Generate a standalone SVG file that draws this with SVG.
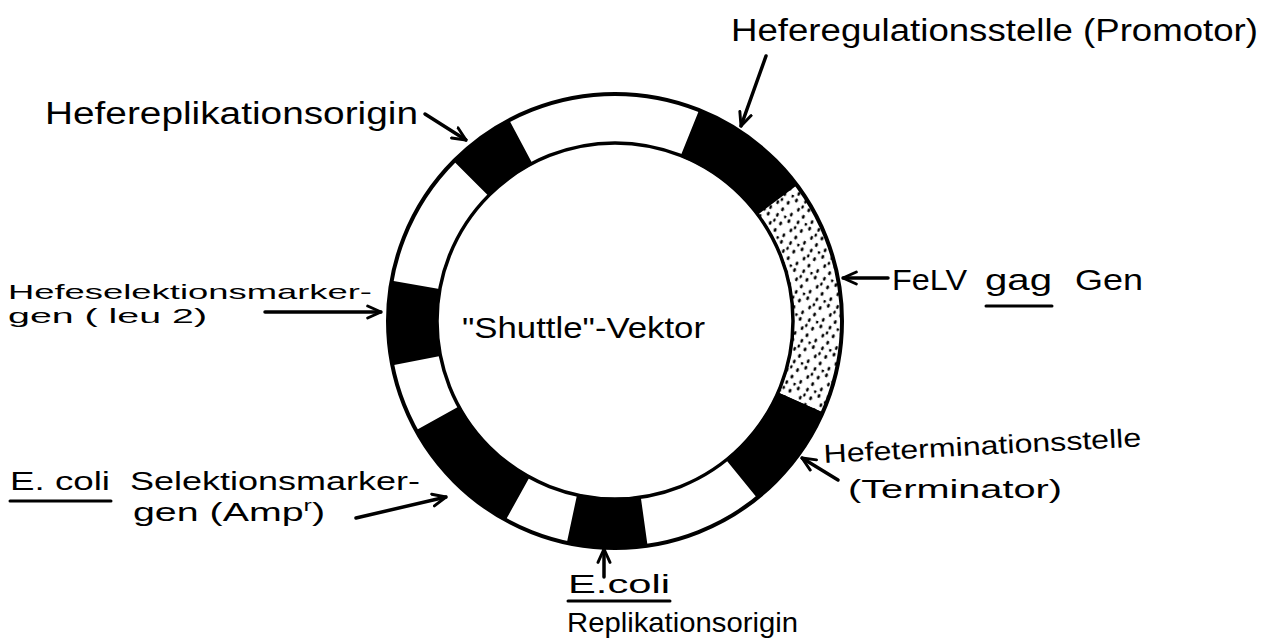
<svg xmlns="http://www.w3.org/2000/svg" width="1274" height="644" viewBox="0 0 1274 644">
  <style>
    .lbl { font-family: "Liberation Sans", Arial, sans-serif; font-weight: normal; fill: #000; }
    .seg { fill: #000; stroke: #000; stroke-width: 2; }
    .ring { fill: none; stroke: #000; }
    .conn { fill: none; stroke: #000; stroke-width: 3.5; stroke-linecap: round; }
    .ul { stroke: #000; stroke-width: 3; stroke-linecap: round; }
  </style>
  <defs>
    <marker id="arr" viewBox="0 0 12 12" refX="11" refY="6" markerWidth="16" markerHeight="16" markerUnits="userSpaceOnUse" orient="auto">
      <path d="M1,1.5 L11,6 L1,10.5" fill="none" stroke="#000" stroke-width="2.2" stroke-linecap="round" stroke-linejoin="round"/>
    </marker>
    <pattern id="dots" width="22" height="22" patternUnits="userSpaceOnUse" patternTransform="rotate(20)">
      <rect width="22" height="22" fill="#fff"/>
      <ellipse cx="3" cy="4" rx="1.5" ry="2.1" fill="#000"/>
      <ellipse cx="12" cy="2" rx="1.4" ry="1.9" fill="#000"/>
      <ellipse cx="18" cy="9" rx="1.5" ry="2" fill="#000"/>
      <ellipse cx="8" cy="12" rx="1.4" ry="2.1" fill="#000"/>
      <ellipse cx="15" cy="17" rx="1.5" ry="1.9" fill="#000"/>
      <ellipse cx="3" cy="19" rx="1.4" ry="2" fill="#000"/>
      <ellipse cx="20" cy="1" rx="1.3" ry="1.8" fill="#000"/>
      <ellipse cx="11" cy="8" rx="1.3" ry="1.8" fill="#000"/>
    </pattern>
  </defs>
  <rect width="1274" height="644" fill="#fff"/>

  <g id="plasmid">
    <circle cx="615" cy="321" r="202.5" fill="none" stroke="#fff" stroke-width="49"/>
    <!-- Hefereplikationsorigin -->
    <path class="seg" d="M454.5,160.5 A227,227 0 0 1 508.4,120.6 L531.4,163.8 A178,178 0 0 0 489.1,195.1 Z"/>
    <!-- Promotor -->
    <path class="seg" d="M700.0,110.5 A227,227 0 0 1 796.3,184.4 L757.2,213.9 A178,178 0 0 0 681.7,156.0 Z"/>
    <!-- FeLV gag (dotted) -->
    <path d="M796.3,184.4 A227,227 0 0 1 822.4,413.3 L777.6,393.4 A178,178 0 0 0 757.2,213.9 Z" fill="url(#dots)" stroke="#000" stroke-width="2"/>
    <!-- Terminator -->
    <path class="seg" d="M822.4,413.3 A227,227 0 0 1 757.9,497.4 L727.0,459.3 A178,178 0 0 0 777.6,393.4 Z"/>
    <!-- E. coli ori -->
    <path class="seg" d="M646.6,545.8 A227,227 0 0 1 567.8,543.0 L578.0,495.1 A178,178 0 0 0 639.8,497.3 Z"/>
    <!-- Amp r -->
    <path class="seg" d="M504.9,519.5 A227,227 0 0 1 416.5,431.1 L459.3,407.3 A178,178 0 0 0 528.7,476.7 Z"/>
    <!-- leu 2 -->
    <path class="seg" d="M392.2,364.3 A227,227 0 0 1 391.5,281.6 L439.7,290.1 A178,178 0 0 0 440.3,355.0 Z"/>
    <circle class="ring" cx="615" cy="321" r="227" stroke-width="4"/>
    <circle class="ring" cx="615" cy="321" r="178" stroke-width="3.5"/>
  </g>

  <g id="center-label">
    <text class="lbl" x="462" y="338" font-size="29" textLength="243" lengthAdjust="spacingAndGlyphs">"Shuttle"-Vektor</text>
  </g>

  <g id="label-promotor">
    <text class="lbl" x="731" y="41" font-size="31" textLength="527" lengthAdjust="spacingAndGlyphs">Heferegulationsstelle (Promotor)</text>
  </g>
  <g id="label-hefeori">
    <text class="lbl" x="45" y="124" font-size="31" textLength="373" lengthAdjust="spacingAndGlyphs">Hefereplikationsorigin</text>
  </g>
  <g id="label-leu2">
    <text class="lbl" x="8" y="299" font-size="21" textLength="364" lengthAdjust="spacingAndGlyphs">Hefeselektionsmarker-</text>
    <text class="lbl" x="8" y="323" font-size="21" textLength="199" lengthAdjust="spacingAndGlyphs">gen ( leu 2)</text>
  </g>
  <g id="label-felv">
    <text class="lbl" x="892" y="290" font-size="29" textLength="75" lengthAdjust="spacingAndGlyphs">FeLV</text>
    <text class="lbl" x="985" y="290" font-size="29" textLength="67" lengthAdjust="spacingAndGlyphs">gag</text>
    <line class="ul" x1="986" y1="306" x2="1052" y2="306"/>
    <text class="lbl" x="1075" y="290" font-size="29" textLength="68" lengthAdjust="spacingAndGlyphs">Gen</text>
  </g>
  <g id="label-terminator">
    <text class="lbl" x="824" y="463" font-size="26" textLength="318" lengthAdjust="spacingAndGlyphs" transform="rotate(-3 824 463)">Hefeterminationsstelle</text>
    <text class="lbl" x="848" y="498" font-size="26" textLength="214" lengthAdjust="spacingAndGlyphs">(Terminator)</text>
  </g>
  <g id="label-amp">
    <text class="lbl" x="10" y="490" font-size="25" textLength="100" lengthAdjust="spacingAndGlyphs">E. coli</text>
    <line class="ul" x1="10" y1="501" x2="111" y2="501"/>
    <text class="lbl" x="130" y="490" font-size="25" textLength="290" lengthAdjust="spacingAndGlyphs">Selektionsmarker-</text>
    <text class="lbl" x="133" y="521" font-size="25" textLength="192" lengthAdjust="spacingAndGlyphs">gen (Amp<tspan font-size="16" dy="-10">r</tspan><tspan dy="10">)</tspan></text>
  </g>
  <g id="label-ecoliori">
    <text class="lbl" x="568" y="593" font-size="26" textLength="102" lengthAdjust="spacingAndGlyphs">E.coli</text>
    <line class="ul" x1="568" y1="601" x2="670" y2="601"/>
    <text class="lbl" x="567" y="632" font-size="28" textLength="231" lengthAdjust="spacingAndGlyphs">Replikationsorigin</text>
  </g>

  <g id="connectors">
    <line class="conn" x1="425" y1="114" x2="466" y2="140" marker-end="url(#arr)"/>
    <line class="conn" x1="766" y1="56" x2="741" y2="126" marker-end="url(#arr)"/>
    <line class="conn" x1="265" y1="312" x2="381" y2="312" marker-end="url(#arr)"/>
    <line class="conn" x1="888" y1="278" x2="843" y2="278" marker-end="url(#arr)"/>
    <line class="conn" x1="838" y1="480" x2="802" y2="458" marker-end="url(#arr)"/>
    <line class="conn" x1="356" y1="518" x2="446" y2="497" marker-end="url(#arr)"/>
    <line class="conn" x1="604" y1="577" x2="604" y2="549" marker-end="url(#arr)"/>
  </g>
</svg>
